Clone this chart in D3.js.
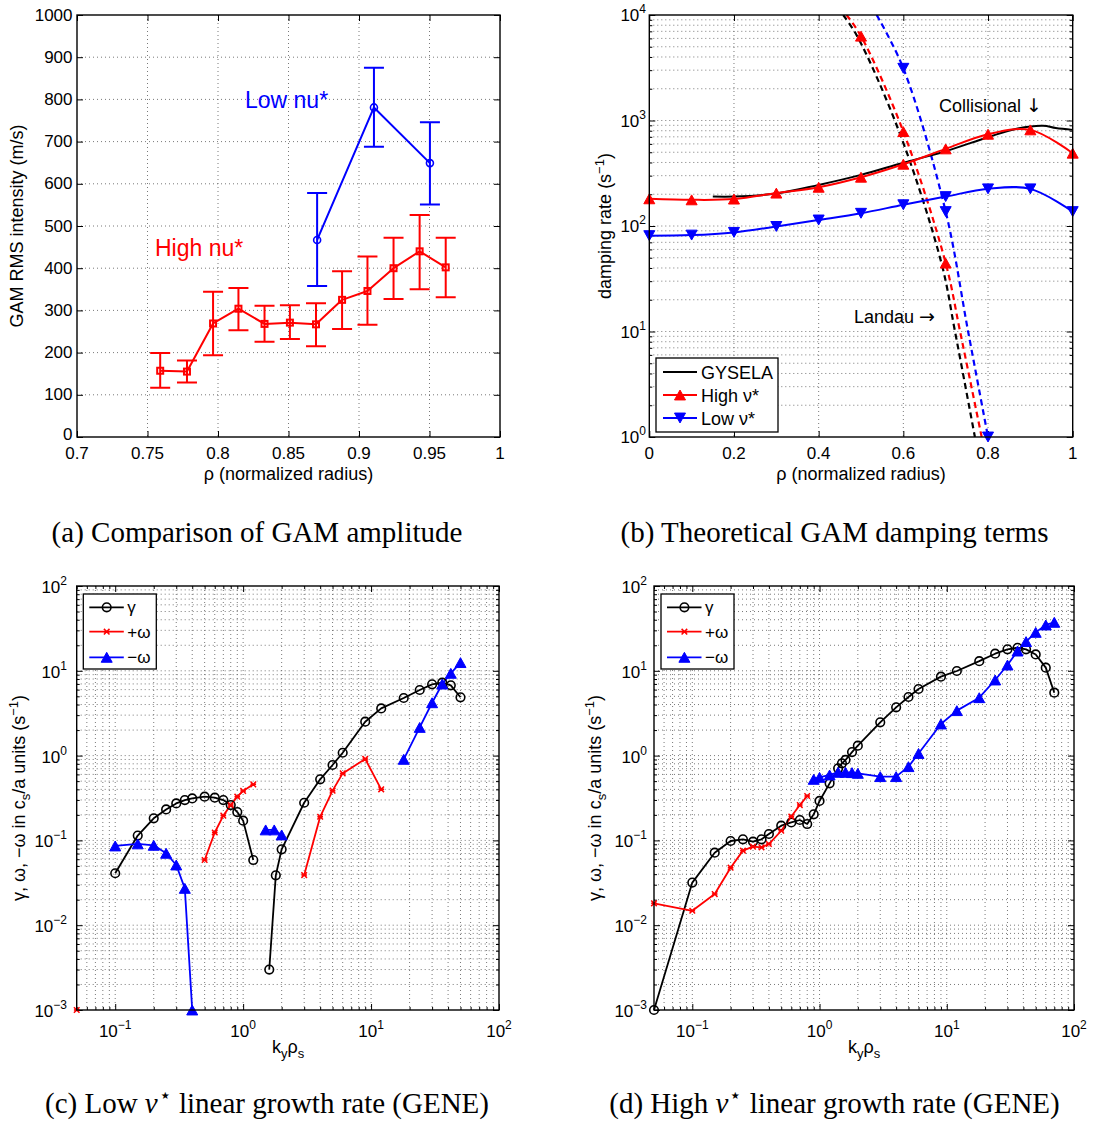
<!DOCTYPE html>
<html><head><meta charset="utf-8">
<script src="https://cdn.jsdelivr.net/npm/d3@7"></script>
<style>body{margin:0;background:#fff}</style>
</head><body>
<script>
// ---------------- DATA ----------------
// (a) GAM RMS intensity
const aHighRho   = [0.759, 0.778, 0.7965, 0.8145, 0.833, 0.851, 0.8695, 0.888, 0.906, 0.9245, 0.943, 0.9615];
const aHighVal   = [157, 155, 269, 304, 268, 271, 267, 325, 346, 400, 440, 402];
const aHighUpper = [199, 181, 344, 353, 311, 312, 317, 393, 428, 472, 526, 472];
const aHighLower = [117, 129, 194, 253, 226, 232, 215, 256, 266, 327, 350, 331];
const aLowRho    = [0.8703, 0.9106, 0.9503];
const aLowVal    = [467, 781, 649];
const aLowUpper  = [578, 875, 746];
const aLowLower  = [358, 688, 551];
const aXTicks = [0.7, 0.75, 0.8, 0.85, 0.9, 0.95, 1];
const aXTickLabels = ["0.7", "0.75", "0.8", "0.85", "0.9", "0.95", "1"];
const aYTicks = [0, 100, 200, 300, 400, 500, 600, 700, 800, 900, 1000];

// (b) damping rates
const bRho   = [0, 0.1, 0.2, 0.3, 0.4, 0.5, 0.6, 0.7, 0.8, 0.9, 1.0];
const bHigh  = [181, 177, 180, 205, 233, 290, 385, 538, 741, 815, 490];
const bLow   = [81, 82, 87, 99, 114, 132, 159, 190, 225, 225, 137];
const bGyselaRho = [0.15, 0.2, 0.3, 0.4, 0.5, 0.6, 0.7, 0.8, 0.87, 0.93, 0.96, 1.0];
const bGysela    = [190, 190, 203, 245, 305, 398, 512, 695, 840, 893, 850, 815];
const bLandauGyselaRho = [0.458, 0.491, 0.590, 0.690, 0.722, 0.769];
const bLandauGysela    = [10000, 6300, 785, 44.5, 10, 1];
const bLandauHighRho   = [0.466, 0.5, 0.6, 0.7, 0.734, 0.785];
const bLandauHigh      = [10000, 6300, 785, 44.5, 10, 1];
const bLandauLowRho    = [0.537, 0.6, 0.7, 0.753, 0.8];
const bLandauLow       = [10000, 3125, 137, 10, 1];
const bLandauHighMarkRho = [0.5, 0.6, 0.7];
const bLandauHighMark    = [6300, 785, 44.5];
const bLandauLowMarkRho  = [0.6, 0.7, 0.8];
const bLandauLowMark     = [3125, 137, 1];
const bXTicks = [0, 0.2, 0.4, 0.6, 0.8, 1];
const bXTickLabels = ["0", "0.2", "0.4", "0.6", "0.8", "1"];
const bYExp = [0, 1, 2, 3, 4];

// (c) low nu* GENE
const cGammaKy = [0.1,0.15,0.2,0.25,0.3,0.35,0.4,0.5,0.6,0.7,0.8,0.9,1.0,1.2, NaN, 1.6,1.8,2,3,4,5,6,9,12,18,24,30,36,42,50];
const cGamma   = [0.041,0.114,0.182,0.232,0.273,0.299,0.313,0.328,0.319,0.299,0.261,0.216,0.171,0.0587, NaN, 0.003,0.0387,0.0785,0.278,0.525,0.775,1.08,2.51,3.6,4.78,5.94,6.92,7.24,6.74,4.87];
const cPlusKy  = [0.05, NaN, 0.5,0.6,0.7,0.8,0.9,1.0,1.2, NaN, 3,4,5,6,9,12];
const cPlus    = [0.001, NaN, 0.0587,0.124,0.196,0.261,0.328,0.383,0.458, NaN, 0.039,0.19,0.386,0.617,0.913,0.40];
const cMinusKy = [0.1,0.15,0.2,0.25,0.3,0.35,0.4, NaN, 1.5,1.75,2.0, NaN, 18,24,30,36,42,50];
const cMinus   = [0.086,0.091,0.0875,0.0705,0.0513,0.0272,0.001, NaN, 0.133,0.133,0.116, NaN, 0.904,2.15,4.2,6.98,9.34,12.5];

// (d) high nu* GENE
const dGammaKy = [0.05,0.1,0.15,0.2,0.25,0.3,0.35,0.4,0.5,0.6,0.7,0.8,0.9,1.0,1.2,1.4,1.5,1.6,1.8,2,3,4,5,6,9,12,18,24,30,36,42,50,60,70];
const dGamma   = [0.001,0.0318,0.0716,0.0984,0.103,0.0967,0.103,0.119,0.149,0.163,0.174,0.156,0.203,0.292,0.471,0.708,0.811,0.888,1.10,1.31,2.47,3.71,4.91,6.10,8.53,9.95,13.0,15.9,17.9,18.7,17.9,15.6,10.9,5.52];
const dPlusKy  = [0.05,0.1,0.15,0.2,0.25,0.3,0.35,0.4,0.5,0.6,0.7,0.8];
const dPlus    = [0.0181,0.0148,0.0233,0.0477,0.0757,0.0843,0.0828,0.0906,0.130,0.191,0.261,0.334];
const dMinusKy = [0.9,1.0,1.2,1.4,1.6,1.8,2,3,4,5,6,9,12,18,24,30,36,42,50,60,70];
const dMinus   = [0.525,0.554,0.591,0.635,0.635,0.63,0.618,0.565,0.565,0.741,1.06,2.36,3.39,4.82,7.79,11.7,17.1,22.1,28.4,34.7,37.3];
const cdXExp = [-1, 0, 1, 2];
const cdYExp = [-3, -2, -1, 0, 1, 2];

// ---------------- DRAWING ----------------
const SANS = "'Liberation Sans', Arial, Helvetica, sans-serif";
const SERIF = "'Liberation Serif', 'Times New Roman', serif";
const RED = "#ff0000", BLUE = "#0000ff", BLACK = "#000000";

const svg = d3.select("body").append("svg").attr("width", 1096).attr("height", 1131);
svg.append("rect").attr("width", 1096).attr("height", 1131).attr("fill", "#fff");

const zip = (xs, ys) => xs.map((x, i) => ({x, y: ys[i]}));

function logMinors(e0, e1, lo, hi) {
  const out = [];
  for (let e = e0; e <= e1; e++) for (let m = 2; m <= 9; m++) {
    const v = m * Math.pow(10, e);
    if (v >= lo * 0.999 && v <= hi * 1.001) out.push(+v.toPrecision(6));
  }
  return out;
}

function panel(id, xs, ys, o) {
  const g = svg.append("g");
  const [x0, x1] = xs.range(), [yB, yT] = ys.range();
  g.append("clipPath").attr("id", id).append("rect")
    .attr("x", x0).attr("y", yT).attr("width", x1 - x0).attr("height", yB - yT);
  const grid = g.append("g").attr("stroke", "#6a6a6a").attr("stroke-width", 0.9).attr("stroke-dasharray", "1,3");
  o.xGrid.forEach(v => { const p = xs(v); if (p > x0 + 1 && p < x1 - 1) grid.append("line").attr("x1", p).attr("x2", p).attr("y1", yT).attr("y2", yB); });
  o.yGrid.forEach(v => { const p = ys(v); if (p > yT + 1 && p < yB - 1) grid.append("line").attr("y1", p).attr("y2", p).attr("x1", x0).attr("x2", x1); });
  const tk = g.append("g");
  const mk = (fn, sc, vals, len, tr) => {
    if (!vals || !vals.length) return;
    tk.append("g").attr("transform", tr)
      .call(fn(sc).tickValues(vals).tickSize(-len).tickFormat(""))
      .call(s => { s.select(".domain").remove(); s.selectAll("line").attr("stroke", "#000").attr("stroke-width", 1); s.selectAll("text").remove(); });
  };
  [[o.xMaj, o.maj], [o.xMin, o.min]].forEach(([v, l]) => {
    mk(d3.axisBottom, xs, v, l, `translate(0,${yB})`);
    mk(d3.axisTop, xs, v, l, `translate(0,${yT})`);
  });
  [[o.yMaj, o.maj], [o.yMin, o.min]].forEach(([v, l]) => {
    mk(d3.axisLeft, ys, v, l, `translate(${x0},0)`);
    mk(d3.axisRight, ys, v, l, `translate(${x1},0)`);
  });
  const data = g.append("g");
  const top = g.append("g");
  top.append("rect").attr("x", x0).attr("y", yT).attr("width", x1 - x0).attr("height", yB - yT)
    .attr("fill", "none").attr("stroke", "#000").attr("stroke-width", 1.4);
  return {g, data, top, x0, x1, yT, yB};
}

function txt(g, x, y, s, size, anchor, family, fill) {
  return g.append("text").attr("x", x).attr("y", y).attr("font-family", family || SANS)
    .attr("font-size", size).attr("text-anchor", anchor || "start").attr("fill", fill || "#000").text(s);
}
function logLabel(g, x, y, e, anchor) {
  const t = g.append("text").attr("x", x).attr("y", y).attr("text-anchor", anchor)
    .attr("font-family", SANS).attr("font-size", 17).attr("fill", "#000");
  t.append("tspan").text("10");
  t.append("tspan").attr("font-size", 12).attr("dy", -8).text(e < 0 ? "\u2212" + (-e) : String(e));
}

function drawLine(g, xs, ys, pts, color, width, dash, curve, clip) {
  const line = d3.line().defined(d => !isNaN(d.x) && !isNaN(d.y)).x(d => xs(d.x)).y(d => ys(d.y));
  if (curve) line.curve(curve);
  const p = g.append("path").attr("d", line(pts)).attr("fill", "none").attr("stroke", color)
    .attr("stroke-width", width).attr("stroke-linejoin", "round");
  if (dash) p.attr("stroke-dasharray", dash);
  if (clip) p.attr("clip-path", `url(#${clip})`);
}

function marker(g, type, x, y, color, size) {
  if (type === "circle") {
    g.append("circle").attr("cx", x).attr("cy", y).attr("r", size).attr("fill", "none").attr("stroke", color).attr("stroke-width", 1.6);
  } else if (type === "square") {
    g.append("rect").attr("x", x - size).attr("y", y - size).attr("width", 2 * size).attr("height", 2 * size)
      .attr("fill", "none").attr("stroke", color).attr("stroke-width", 2);
  } else if (type === "up" || type === "down") {
    const w = size, h = size * 0.9;
    const s = type === "up" ? 1 : -1;
    g.append("path").attr("d", `M${x},${y - s * h / 2}L${x + w / 2},${y + s * h / 2}L${x - w / 2},${y + s * h / 2}Z`)
      .attr("fill", color).attr("stroke", color).attr("stroke-width", 1);
  } else if (type === "x") {
    const a = size;
    g.append("path").attr("d", `M${x - a},${y - a}L${x + a},${y + a}M${x - a},${y + a}L${x + a},${y - a}M${x - a},${y}L${x + a},${y}`)
      .attr("stroke", color).attr("stroke-width", 1.5).attr("fill", "none");
  }
}
function markers(g, xs, ys, pts, type, color, size) {
  pts.filter(d => !isNaN(d.x) && !isNaN(d.y)).forEach(d => marker(g, type, xs(d.x), ys(d.y), color, size));
}

// ===== Panel (a) =====
{
  const xs = d3.scaleLinear([0.7, 1], [77, 500]);
  const ys = d3.scaleLinear([0, 1000], [437, 15]);
  const P = panel("clipA", xs, ys, {xGrid: aXTicks, yGrid: aYTicks, xMaj: aXTicks, yMaj: aYTicks, maj: 6, min: 3});
  const errs = (rho, up, lo, color) => rho.forEach((r, i) => {
    const x = xs(r), w = 10;
    P.data.append("path").attr("d", `M${x},${ys(up[i])}V${ys(lo[i])}M${x - w},${ys(up[i])}H${x + w}M${x - w},${ys(lo[i])}H${x + w}`)
      .attr("stroke", color).attr("stroke-width", 2).attr("fill", "none");
  });
  errs(aHighRho, aHighUpper, aHighLower, RED);
  errs(aLowRho, aLowUpper, aLowLower, BLUE);
  drawLine(P.data, xs, ys, zip(aHighRho, aHighVal), RED, 2);
  drawLine(P.data, xs, ys, zip(aLowRho, aLowVal), BLUE, 2);
  markers(P.data, xs, ys, zip(aHighRho, aHighVal), "square", RED, 3);
  markers(P.data, xs, ys, zip(aLowRho, aLowVal), "circle", BLUE, 3.5);
  txt(P.data, 245, 108, "Low nu*", 23, "start", SANS, BLUE);
  txt(P.data, 155, 256, "High nu*", 23, "start", SANS, RED);
  aXTicks.forEach((v, i) => txt(P.top, xs(v), 459, aXTickLabels[i], 17, "middle"));
  aYTicks.forEach(v => txt(P.top, 72.5, ys(v) + (v === 0 ? 2.5 : 5.5), String(v), 17, "end"));
  txt(P.top, 288.5, 479.5, "\u03C1 (normalized radius)", 18, "middle");
  txt(P.top, 0, 0, "GAM RMS intensity (m/s)", 18, "middle").attr("transform", "translate(23,226) rotate(-90)");
}

// ===== Panel (b) =====
{
  const xs = d3.scaleLinear([0, 1], [649.3, 1072.7]);
  const ys = d3.scaleLog([1, 1e4], [437, 15]);
  const yMaj = bYExp.map(e => Math.pow(10, e));
  const yMin = logMinors(0, 3, 1, 1e4);
  const P = panel("clipB", xs, ys, {xGrid: bXTicks, yGrid: yMaj.concat(yMin), xMaj: bXTicks, yMaj, yMin, maj: 6, min: 3});
  const cr = d3.curveCatmullRom.alpha(0.5);
  drawLine(P.data, xs, ys, zip(bLandauGyselaRho, bLandauGysela), BLACK, 2.2, "6,4", cr, "clipB");
  drawLine(P.data, xs, ys, zip(bLandauHighRho, bLandauHigh), RED, 2.2, "6,4", cr, "clipB");
  drawLine(P.data, xs, ys, zip(bLandauLowRho, bLandauLow), BLUE, 2.2, "6,4", cr, "clipB");
  drawLine(P.data, xs, ys, zip(bGyselaRho, bGysela), BLACK, 2, null, cr);
  drawLine(P.data, xs, ys, zip(bRho, bHigh), RED, 2, null, cr);
  drawLine(P.data, xs, ys, zip(bRho, bLow), BLUE, 2, null, cr);
  markers(P.data, xs, ys, zip(bRho, bHigh), "up", RED, 11);
  markers(P.data, xs, ys, zip(bRho, bLow), "down", BLUE, 11);
  markers(P.data, xs, ys, zip(bLandauHighMarkRho, bLandauHighMark), "up", RED, 11);
  markers(P.data, xs, ys, zip(bLandauLowMarkRho, bLandauLowMark), "down", BLUE, 11);
  const t1 = txt(P.data, 939, 112, "Collisional ", 18, "start");
  t1.append("tspan").attr("font-family", "'DejaVu Sans', sans-serif").attr("font-size", 19).text("\u2193");
  const t2 = txt(P.data, 854, 323, "Landau ", 18, "start");
  t2.append("tspan").attr("font-family", "'DejaVu Sans', sans-serif").attr("font-size", 19).text("\u2192");
  // legend
  const L = P.top.append("g");
  L.append("rect").attr("x", 656).attr("y", 358).attr("width", 122).attr("height", 74).attr("fill", "#fff").attr("stroke", "#000").attr("stroke-width", 1.3);
  [[372, BLACK, null, "GYSELA"], [395, RED, "up", "High \u03BD*"], [418, BLUE, "down", "Low \u03BD*"]].forEach(([y, c, m, s]) => {
    L.append("line").attr("x1", 663).attr("x2", 697).attr("y1", y).attr("y2", y).attr("stroke", c).attr("stroke-width", 2);
    if (m) marker(L, m, 680, y, c, 11);
    txt(L, 701, y + 6.5, s, 18, "start");
  });
  bXTicks.forEach((v, i) => txt(P.top, xs(v), 459, bXTickLabels[i], 17, "middle"));
  bYExp.forEach(e => logLabel(P.top, 646, ys(Math.pow(10, e)) + 6, e, "end"));
  txt(P.top, 861, 479.5, "\u03C1 (normalized radius)", 18, "middle");
  const t = txt(P.top, 0, 0, "damping rate (s", 18, "middle").attr("transform", "translate(611,226) rotate(-90)");
  t.append("tspan").attr("font-size", 13).attr("dy", -7).text("\u22121");
  t.append("tspan").attr("dy", 7).text(")");
}

// ===== Panels (c) and (d) =====
function gene(id, xr, labelRight, ylabX, xlabX, gamma, plus, minus, legend) {
  const xs = d3.scaleLog([0.05, 100], xr);
  const ys = d3.scaleLog([1e-3, 100], [1010, 586]);
  const xMaj = cdXExp.map(e => Math.pow(10, e));
  const xMin = logMinors(-2, 1, 0.05, 100);
  const yMaj = cdYExp.map(e => Math.pow(10, e));
  const yMin = logMinors(-3, 1, 1e-3, 100);
  const P = panel(id, xs, ys, {xGrid: xMaj.concat(xMin), yGrid: yMaj.concat(yMin), xMaj, xMin, yMaj, yMin, maj: 6, min: 3});
  drawLine(P.data, xs, ys, gamma, BLACK, 1.8);
  drawLine(P.data, xs, ys, plus, RED, 1.8);
  drawLine(P.data, xs, ys, minus, BLUE, 1.8);
  markers(P.data, xs, ys, gamma, "circle", BLACK, 4.3);
  markers(P.data, xs, ys, plus, "x", RED, 2.8);
  markers(P.data, xs, ys, minus, "up", BLUE, 11);
  // legend
  const L = P.top.append("g");
  const [lx, ly] = legend;
  L.append("rect").attr("x", lx).attr("y", ly).attr("width", 73).attr("height", 75).attr("fill", "#fff").attr("stroke", "#000").attr("stroke-width", 1.3);
  [[13.3, BLACK, "circle", "\u03B3", 4.3], [37.7, RED, "x", "+\u03C9", 2.8], [63.3, BLUE, "up", "\u2212\u03C9", 11]].forEach(([dy, c, m, s, sz]) => {
    const y = ly + dy;
    L.append("line").attr("x1", lx + 6).attr("x2", lx + 40.5).attr("y1", y).attr("y2", y).attr("stroke", c).attr("stroke-width", 1.8);
    marker(L, m, lx + 23.4, y, c, sz);
    txt(L, lx + 44, y + 6, s, 17, "start");
  });
  cdXExp.forEach(e => logLabel(P.top, xs(Math.pow(10, e)), 1036.5, e, "middle"));
  cdYExp.forEach(e => logLabel(P.top, labelRight, ys(Math.pow(10, e)) + 7, e, "end"));
  const xl = txt(P.top, xlabX, 1053, "k", 18, "middle");
  xl.append("tspan").attr("font-size", 13).attr("dy", 5).text("y");
  xl.append("tspan").attr("dy", -5).text("\u03C1");
  xl.append("tspan").attr("font-size", 13).attr("dy", 5).text("s");
  const yl = txt(P.top, 0, 0, "\u03B3, \u03C9, \u2212\u03C9 in c", 18, "middle").attr("transform", `translate(${ylabX},798) rotate(-90)`);
  yl.append("tspan").attr("font-size", 13).attr("dy", 5).text("s");
  yl.append("tspan").attr("dy", -5).text("/a units (s");
  yl.append("tspan").attr("font-size", 13).attr("dy", -7).text("\u22121");
  yl.append("tspan").attr("dy", 7).text(")");
}
gene("clipC", [76.7, 499], 67, 25, 288, zip(cGammaKy, cGamma), zip(cPlusKy, cPlus), zip(cMinusKy, cMinus), [83.3, 594]);
gene("clipD", [654, 1074], 647, 601, 864, zip(dGammaKy, dGamma), zip(dPlusKy, dPlus), zip(dMinusKy, dMinus), [661, 594]);

// ===== Captions =====
const cap = svg.append("g").attr("font-family", SERIF).attr("font-size", 29).attr("fill", "#000");
cap.append("text").attr("x", 257).attr("y", 542).attr("text-anchor", "middle").text("(a) Comparison of GAM amplitude");
cap.append("text").attr("x", 834.5).attr("y", 542).attr("text-anchor", "middle").text("(b) Theoretical GAM damping terms");
function nuCap(x, pre, post) {
  const t = cap.append("text").attr("x", x).attr("y", 1113).attr("text-anchor", "middle");
  t.append("tspan").text(pre);
  t.append("tspan").attr("font-style", "italic").text("\u03BD");
  t.append("tspan").attr("font-size", 20).attr("dy", -11).attr("dx", 1).text("\u22C6");
  t.append("tspan").attr("dy", 11).text(post);
}
nuCap(267, "(c) Low ", " linear growth rate (GENE)");
nuCap(834.5, "(d) High ", " linear growth rate (GENE)");
</script>
</body></html>
